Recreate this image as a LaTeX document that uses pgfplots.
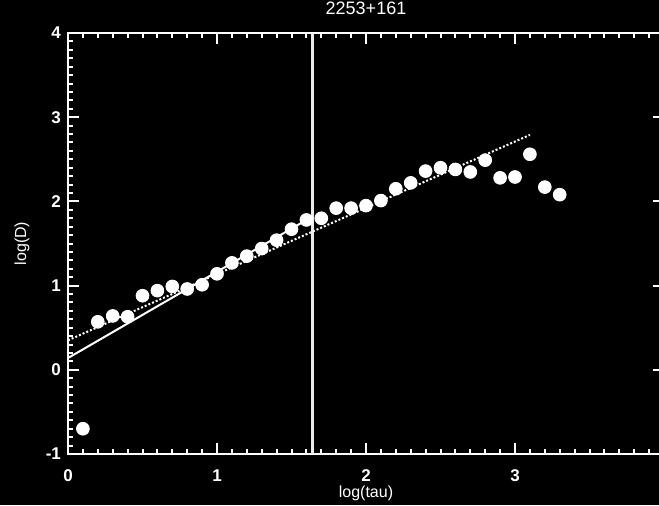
\documentclass[border=0pt]{standalone}
\usepackage{pgfplots}
\pgfplotsset{compat=1.18}
\usepackage{fontspec}
\setmainfont{Liberation Sans}
\begin{document}
\begin{tikzpicture}
\useasboundingbox[fill=black] (-34pt,-25.5pt) rectangle (295.5pt,227pt);
\begin{axis}[
  scale only axis,
  width=298pt, height=210.5pt,
  xmin=0, xmax=4, ymin=-1, ymax=4,
  axis line style={white, line width=1.4pt},
  tick style={white, line width=1pt},
  minor tick style={white, line width=1pt},
  major tick length=5.5pt, minor tick length=2.5pt,
  xtick={0,1,2,3,4}, ytick={-1,0,1,2,3,4},
  xticklabels={0,1,2,3,}, 
  minor x tick num=9, minor y tick num=9,
  tick align=inside,
  /pgf/number format/assume math mode=true,
  tick label style={white, font=\fontsize{8.5}{9}\selectfont\bfseries},
  xticklabel style={yshift=-4.5pt},
  title={2253+161},
  title style={white, font=\fontsize{9}{10}\selectfont, at={(axis description cs:0.5,1)}, anchor=base, yshift=3.5pt},
  xlabel={log(tau)},
  xlabel style={white, font=\fontsize{8}{9}\selectfont, at={(axis description cs:0.5,0)}, anchor=center, yshift=-19.5pt},
  ylabel={log(D)},
  ylabel style={white, font=\fontsize{8}{9}\selectfont, at={(axis description cs:-0.0772,0.5)}, anchor=center},
  clip=false,
]
\addplot[white!85!gray, line width=1.4pt] coordinates {(1.64,-1) (1.64,4)};
\addplot[white, line width=1pt] coordinates {(0,0.14) (1.64,1.82)};
\addplot[white, line width=1pt, dash pattern=on 1pt off 1pt] coordinates {(0,0.35) (3.1,2.79)};
\addplot[only marks, mark=*, mark size=3.2pt, white, mark options={fill=white, draw=white}] coordinates {
(0.1,-0.70) (0.2,0.57) (0.3,0.64) (0.4,0.63) (0.5,0.88) (0.6,0.94) (0.7,0.99)
(0.8,0.96) (0.9,1.01) (1.0,1.14) (1.1,1.27) (1.2,1.35) (1.3,1.44) (1.4,1.54)
(1.5,1.67) (1.6,1.78) (1.7,1.80) (1.8,1.92) (1.9,1.92) (2.0,1.95) (2.1,2.01)
(2.2,2.15) (2.3,2.22) (2.4,2.36) (2.5,2.40) (2.6,2.38) (2.7,2.35) (2.8,2.49)
(2.9,2.28) (3.0,2.29) (3.1,2.56) (3.2,2.17) (3.3,2.08)
};
\end{axis}
\end{tikzpicture}
\end{document}
